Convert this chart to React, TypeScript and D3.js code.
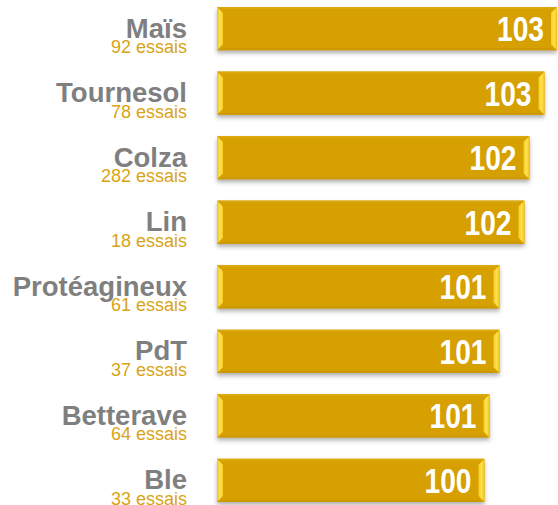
import React from "react";
import * as d3 from "d3";

const categories = ["Maïs", "Tournesol", "Colza", "Lin", "Protéagineux", "PdT", "Betterave", "Ble"];
const trials = [92, 78, 282, 18, 61, 37, 64, 33];
const values = [103.3, 102.8, 102.2, 102.0, 101.0, 101.0, 100.6, 100.4];

const W = 558;
const H = 505;

export default function App() {
  const x = d3.scaleLinear().domain([89.7, 103.3]).range([217, 557]);
  const y = d3.scaleBand<string>().domain(categories).range([7, 502]).paddingInner(0.33).paddingOuter(0);
  const bw = y.bandwidth();
  const bev = 6;
  return (
    <svg width={W} height={H} style={{ position: "absolute", left: 0, top: 0, background: "#fff" }}>
      <defs>
        <filter id="sh" x="-5%" y="-30%" width="110%" height="170%">
          <feDropShadow dx="0" dy="3" stdDeviation="2.2" floodColor="#555" floodOpacity="0.45" />
        </filter>
        <linearGradient id="bevL" x1="0" x2="1" y1="0" y2="0">
          <stop offset="0" stopColor="#F2C21C" />
          <stop offset="0.5" stopColor="#FFE24A" />
          <stop offset="1" stopColor="#F6CC2A" />
        </linearGradient>
        <linearGradient id="bevR" x1="1" x2="0" y1="0" y2="0">
          <stop offset="0" stopColor="#F2C21C" />
          <stop offset="0.5" stopColor="#FFE24A" />
          <stop offset="1" stopColor="#F6CC2A" />
        </linearGradient>
      </defs>
      {categories.map((c, i) => {
        const y0 = y(c)!;
        const y1 = y0 + bw;
        const x0 = x.range()[0];
        const x1 = x(values[i]);
        const cy = y0 + bw / 2;
        return (
          <g key={c}>
            <rect x={x0} y={y0} width={x1 - x0} height={bw} fill="#D5A000" filter="url(#sh)" />
            <polygon
              points={`${x0},${y0} ${x1},${y0} ${x1 - bev},${y0 + 2} ${x0 + bev},${y0 + 2}`}
              fill="#DBA90E"
            />
            <polygon
              points={`${x0},${y1} ${x1},${y1} ${x1 - bev},${y1 - 2} ${x0 + bev},${y1 - 2}`}
              fill="#CC9800"
            />
            <polygon
              points={`${x0},${y0} ${x0 + bev},${y0 + bev} ${x0 + bev},${y1 - bev} ${x0},${y1}`}
              fill="url(#bevL)"
            />
            <polygon
              points={`${x1},${y0} ${x1 - bev},${y0 + bev} ${x1 - bev},${y1 - bev} ${x1},${y1}`}
              fill="url(#bevR)"
            />
            <text
              x={x1 - 13}
              y={cy + 12.5}
              textAnchor="end"
              fill="#fff"
              fontFamily="'Liberation Sans', Arial, sans-serif"
              fontWeight="bold"
              fontSize={35}
              textLength={47}
              lengthAdjust="spacingAndGlyphs"
            >
              {Math.round(values[i])}
            </text>
            <text
              x={187}
              y={cy + 9}
              textAnchor="end"
              fill="#7F7F7F"
              fontFamily="'Liberation Sans', Arial, sans-serif"
              fontWeight="bold"
              fontSize={27.5}
            >
              {c}
            </text>
            <text
              x={187}
              y={cy + 24.5}
              textAnchor="end"
              fill="#D9A414"
              fontFamily="'Liberation Sans', Arial, sans-serif"
              fontSize={18}
            >
              {`${trials[i]} essais`}
            </text>
          </g>
        );
      })}
    </svg>
  );
}
